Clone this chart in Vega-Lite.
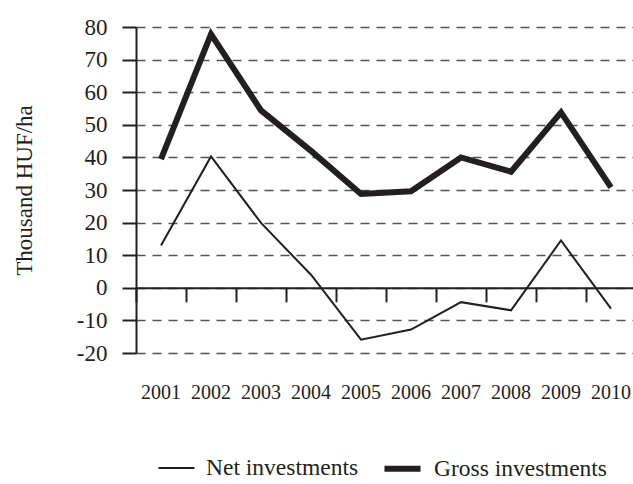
{
  "$schema": "https://vega.github.io/schema/vega-lite/v6.json",
  "width": 500,
  "height": 326,
  "autosize": {"type": "none"},
  "padding": {"left": 136, "top": 27, "right": -3, "bottom": 131},
  "background": "white",
  "config": {
    "view": {"stroke": null},
    "font": "Liberation Serif",
    "axis": {"labelFont": "Liberation Serif", "titleFont": "Liberation Serif"},
    "legend": {"labelFont": "Liberation Serif"}
  },
  "data": {
    "values": [
      {"year": "2001", "series": "Net investments", "value": 13},
      {"year": "2002", "series": "Net investments", "value": 40.3},
      {"year": "2003", "series": "Net investments", "value": 19.9},
      {"year": "2004", "series": "Net investments", "value": 4},
      {"year": "2005", "series": "Net investments", "value": -15.9},
      {"year": "2006", "series": "Net investments", "value": -12.8},
      {"year": "2007", "series": "Net investments", "value": -4.4},
      {"year": "2008", "series": "Net investments", "value": -6.9},
      {"year": "2009", "series": "Net investments", "value": 14.5},
      {"year": "2010", "series": "Net investments", "value": -6.4},
      {"year": "2001", "series": "Gross investments", "value": 39.5},
      {"year": "2002", "series": "Gross investments", "value": 77.8},
      {"year": "2003", "series": "Gross investments", "value": 54.4},
      {"year": "2004", "series": "Gross investments", "value": 42},
      {"year": "2005", "series": "Gross investments", "value": 28.8},
      {"year": "2006", "series": "Gross investments", "value": 29.6},
      {"year": "2007", "series": "Gross investments", "value": 40},
      {"year": "2008", "series": "Gross investments", "value": 35.6},
      {"year": "2009", "series": "Gross investments", "value": 53.8},
      {"year": "2010", "series": "Gross investments", "value": 30.8}
    ]
  },
  "mark": {"type": "line", "color": "#231f20", "strokeJoin": "miter", "strokeCap": "butt"},
  "encoding": {
    "x": {
      "field": "year",
      "type": "ordinal",
      "bandPosition": 0.5,
      "scale": {"type": "band", "paddingInner": 0, "paddingOuter": 0},
      "axis": {
        "title": null,
        "orient": "bottom",
        "offset": -65.2,
        "bandPosition": 0,
        "grid": false,
        "domainColor": "#231f20",
        "domainWidth": 2,
        "tickColor": "#231f20",
        "tickWidth": 2,
        "tickSize": 14,
        "labelOffset": 0,
        "labelPadding": 81,
        "labelFontSize": 20,
        "labelColor": "#231f20",
        "labelAngle": 0,
        "labelBaseline": "top"
      }
    },
    "y": {
      "field": "value",
      "type": "quantitative",
      "scale": {"domain": [-20, 80], "nice": false, "zero": false},
      "axis": {
        "title": "Thousand HUF/ha",
        "values": [-20, -10, 0, 10, 20, 30, 40, 50, 60, 70, 80],
        "labelExpr": "'' + datum.value",
        "domainColor": "#231f20",
        "domainWidth": 2,
        "tickColor": "#231f20",
        "tickWidth": 2,
        "tickSize": 14,
        "labelFontSize": 23,
        "labelColor": "#231f20",
        "labelPadding": 15,
        "grid": true,
        "gridColor": "#555555",
        "gridDash": [9, 7],
        "gridWidth": 1.5,
        "titleFontSize": 23,
        "titleFontWeight": "normal",
        "titleColor": "#231f20",
        "titlePadding": 40
      }
    },
    "strokeWidth": {
      "field": "series",
      "type": "ordinal",
      "scale": {"domain": ["Net investments", "Gross investments"], "range": [2, 6]},
      "legend": {
        "title": null,
        "orient": "none",
        "direction": "horizontal",
        "legendX": 21,
        "legendY": 420,
        "symbolType": "stroke",
        "symbolStrokeColor": "#231f20",
        "symbolSize": 1300,
        "labelFontSize": 23.5,
        "labelColor": "#231f20",
        "labelOffset": 10,
        "labelLimit": 400,
        "columnPadding": 13
      }
    }
  }
}
